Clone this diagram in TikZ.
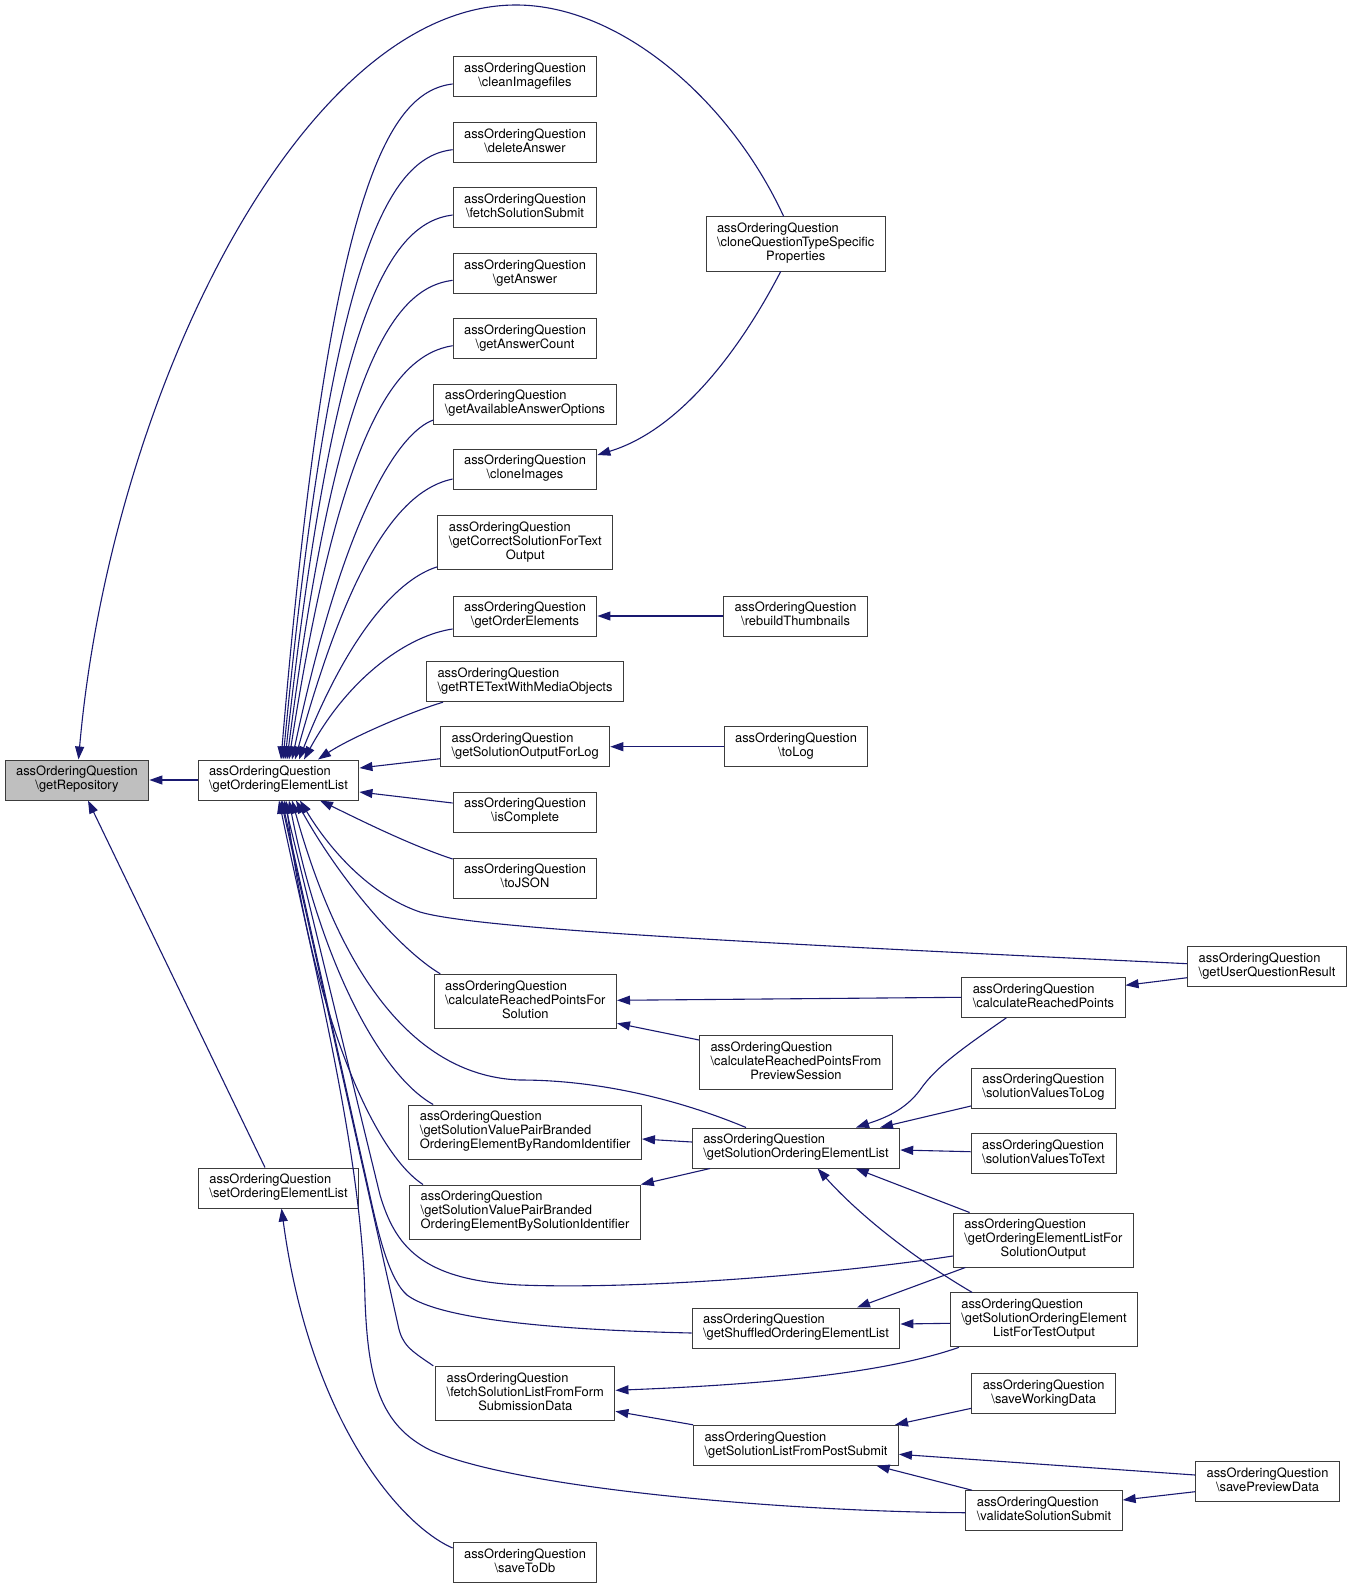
\documentclass[tikz,border=0pt]{standalone}
\usepackage{fontspec}
\setmainfont{TeX Gyre Heros}
\usetikzlibrary{arrows.meta}
\definecolor{edgeblue}{RGB}{25,25,112}
\definecolor{boxgray}{RGB}{191,191,191}
\definecolor{boxline}{RGB}{60,60,60}
% two line label: class, then method (last line centred)
\newcommand{\fnname}[1]{\begin{tabular}{@{}l@{}}assOrderingQuestion\\\hfill\textbackslash #1\hfill\null\end{tabular}}
% three line label
\newcommand{\fnnamesplit}[2]{\begin{tabular}{@{}l@{}}assOrderingQuestion\\\textbackslash #1\\\hfill #2\hfill\null\end{tabular}}
\tikzset{
  fnbox/.style={draw=boxline, line width=1pt, fill=white, inner xsep=11pt, inner ysep=6pt,
    font={\fontsize{12.9pt}{14pt}\selectfont}},
  curbox/.style={fnbox, fill=boxgray},
  calledge/.style={draw=edgeblue, line width=1.1pt, -{Triangle[length=13pt,width=9pt]}}
}
\begin{document}
\begin{tikzpicture}[x=1pt,y=-1pt]
\useasboundingbox (0,0) rectangle (1353,1589);

% Column 1
\node[curbox] (getRepository) at (77,780) {\fnname{getRepository}};%

% Column 2
\node[fnbox] (getOrderingElementList) at (278.5,780) {\fnname{getOrderingElementList}};%
\node[fnbox] (setOrderingElementList) at (278.5,1188) {\fnname{setOrderingElementList}};%

% Column 3
\node[fnbox] (cleanImagefiles) at (525,77) {\fnname{cleanImagefiles}};%
\node[fnbox] (deleteAnswer) at (525,142.7) {\fnname{deleteAnswer}};%
\node[fnbox] (fetchSolutionSubmit) at (525,208) {\fnname{fetchSolutionSubmit}};%
\node[fnbox] (getAnswer) at (525,273.3) {\fnname{getAnswer}};%
\node[fnbox] (getAnswerCount) at (525,338.7) {\fnname{getAnswerCount}};%
\node[fnbox] (getAvailableAnswerOptions) at (525,404) {\fnname{getAvailableAnswerOptions}};%
\node[fnbox] (cloneImages) at (525,469) {\fnname{cloneImages}};%
\node[fnbox] (getCorrectSolution) at (525.3,542.8) {\fnnamesplit{getCorrectSolutionForText}{Output}};%
\node[fnbox] (getOrderElements) at (525,616) {\fnname{getOrderElements}};%
\node[fnbox] (getRTEText) at (525,681.7) {\fnname{getRTETextWithMediaObjects}};%
\node[fnbox] (getSolutionOutputForLog) at (525.2,746.7) {\fnname{getSolutionOutputForLog}};%
\node[fnbox] (isComplete) at (525,812) {\fnname{isComplete}};%
\node[fnbox] (toJSON) at (525,878) {\fnname{toJSON}};%
\node[fnbox] (calcPointsForSolution) at (525.3,1001.3) {\fnnamesplit{calculateReachedPointsFor}{Solution}};%
\node[fnbox] (pairByRandom) at (525.2,1132) {\fnnamesplit{getSolutionValuePairBranded}{OrderingElementByRandomIdentifier}};%
\node[fnbox] (pairBySolution) at (525,1212) {\fnnamesplit{getSolutionValuePairBranded}{OrderingElementBySolutionIdentifier}};%
\node[fnbox] (fetchSolutionList) at (525.3,1393.3) {\fnnamesplit{fetchSolutionListFromForm}{SubmissionData}};%
\node[fnbox] (saveToDb) at (525,1562.7) {\fnname{saveToDb}};%

% Column 4
\node[fnbox] (cloneTypeSpecific) at (795.7,244) {\fnnamesplit{cloneQuestionTypeSpecific}{Properties}};%
\node[fnbox] (rebuildThumbnails) at (795.6,616) {\fnname{rebuildThumbnails}};%
\node[fnbox] (toLog) at (796,746.7) {\fnname{toLog}};%
\node[fnbox] (calcPointsFromPreview) at (796,1062.7) {\fnnamesplit{calculateReachedPointsFrom}{PreviewSession}};%
\node[fnbox] (getSolutionOrdering) at (796,1148) {\fnname{getSolutionOrderingElementList}};%
\node[fnbox] (getShuffled) at (796,1328) {\fnname{getShuffledOrderingElementList}};%
\node[fnbox] (getSolutionListFromPost) at (796,1445.3) {\fnname{getSolutionListFromPostSubmit}};%

% Column 5
\node[fnbox] (calcPoints) at (1043.4,997.3) {\fnname{calculateReachedPoints}};%
\node[fnbox] (valuesToLog) at (1043.5,1088) {\fnname{solutionValuesToLog}};%
\node[fnbox] (valuesToText) at (1043.6,1153.3) {\fnname{solutionValuesToText}};%
\node[fnbox] (listForSolutionOutput) at (1043.3,1240) {\fnnamesplit{getOrderingElementListFor}{SolutionOutput}};%
\node[fnbox] (listForTestOutput) at (1044,1319.8) {\fnnamesplit{getSolutionOrderingElement}{ListForTestOutput}};%
\node[fnbox] (saveWorkingData) at (1043.7,1393.3) {\fnname{saveWorkingData}};%
\node[fnbox] (validateSubmit) at (1044,1510.7) {\fnname{validateSolutionSubmit}};%

% Column 6
\node[fnbox] (getUserResult) at (1267,966.7) {\fnname{getUserQuestionResult}};%
\node[fnbox] (savePreviewData) at (1267.5,1481.7) {\fnname{savePreviewData}};%

% Edges into getRepository
\draw[calledge] (getOrderingElementList.west) -- (getRepository.east);%
\draw[calledge] ([xshift=-12pt]cloneTypeSpecific.north) .. controls (730,100) and (620,5) .. (516,5) .. controls (300,5) and (110,400) .. ([xshift=1.5pt]getRepository.north);%
\draw[calledge] ([xshift=-13.5pt]setOrderingElementList.north) -- ([xshift=11pt]getRepository.south);%
\draw[calledge] ([yshift=14.7pt]saveToDb.west) .. controls (400,1525) and (310,1420) .. ([xshift=3pt]setOrderingElementList.south);%

% Edges into getOrderingElementList, upper fan
\draw[calledge] ([yshift=-7pt]cleanImagefiles.west) .. controls (385,92) and (328,200) .. ([xshift=2.5pt]getOrderingElementList.north);%
\draw[calledge] ([yshift=-7pt]deleteAnswer.west) .. controls (388,157) and (331,255) .. ([xshift=4.5pt]getOrderingElementList.north);%
\draw[calledge] ([yshift=-7pt]fetchSolutionSubmit.west) .. controls (390,223) and (334,310) .. ([xshift=6.5pt]getOrderingElementList.north);%
\draw[calledge] ([yshift=-7pt]getAnswer.west) .. controls (392,288) and (337,370) .. ([xshift=8.5pt]getOrderingElementList.north);%
\draw[calledge] ([yshift=-7pt]getAnswerCount.west) .. controls (395,355) and (340,430) .. ([xshift=10.5pt]getOrderingElementList.north);%
\draw[calledge] ([yshift=-16pt]getAvailableAnswerOptions.west) .. controls (400,432) and (345,510) .. ([xshift=13.5pt]getOrderingElementList.north);%
\draw[calledge] ([yshift=-10pt]cloneImages.west) .. controls (400,490) and (350,560) .. ([xshift=16.5pt]getOrderingElementList.north);%
\draw[calledge] ([yshift=-24pt]getCorrectSolution.west) .. controls (400,578) and (350,630) .. ([xshift=20.5pt]getOrderingElementList.north);%
\draw[calledge] ([yshift=-13pt]getOrderElements.west) .. controls (410,635) and (350,675) .. ([xshift=25.5pt]getOrderingElementList.north);%
\draw[calledge] ([xshift=-82pt]getRTEText.south) .. controls (410,712) and (350,738) .. ([xshift=39.5pt]getOrderingElementList.north);%

% Edges into getOrderingElementList, right side and lower fan
\draw[calledge] ([yshift=-12pt]getSolutionOutputForLog.west) -- ([yshift=12pt]getOrderingElementList.east);%
\draw[calledge] ([yshift=9pt]isComplete.west) -- ([yshift=-12pt]getOrderingElementList.east);%
\draw[calledge] ([yshift=19pt]toJSON.west) .. controls (410,845) and (360,820) .. ([xshift=41.5pt]getOrderingElementList.south);%
\draw[calledge] ([yshift=3pt]getUserResult.west) .. controls (800,945) and (480,930) .. (420,912) .. controls (370,895) and (330,850) .. ([xshift=21.5pt]getOrderingElementList.south);%
\draw[calledge] ([xshift=-85pt]calcPointsForSolution.north) .. controls (400,950) and (340,880) .. ([xshift=17.5pt]getOrderingElementList.south);%
\draw[calledge] ([xshift=-50pt]getSolutionOrdering.north) .. controls (680,1100) and (600,1080) .. (520,1080) .. controls (380,1075) and (320,900) .. ([xshift=13.5pt]getOrderingElementList.south);%
\draw[calledge] ([xshift=-92pt]pairByRandom.north) .. controls (380,1075) and (320,960) .. ([xshift=10.5pt]getOrderingElementList.south);%
\draw[calledge] ([xshift=-102pt]pairBySolution.north) .. controls (370,1150) and (310,1000) .. ([xshift=7.5pt]getOrderingElementList.south);%
\draw[calledge] ([yshift=-16pt]listForSolutionOutput.west) .. controls (850,1272) and (650,1290) .. (520,1285) .. controls (420,1280) and (395,1245) .. (380,1195) -- ([xshift=5.5pt]getOrderingElementList.south);%
\draw[calledge] ([yshift=-5pt]getShuffled.west) .. controls (560,1330) and (440,1320) .. (407,1295) .. controls (390,1280) and (380,1240) .. (372,1205) -- ([xshift=3.5pt]getOrderingElementList.south);%
\draw[calledge] ([xshift=-92pt]fetchSolutionList.north) .. controls (410,1350) and (402,1345) .. (398,1325) -- ([xshift=2.5pt]getOrderingElementList.south);%
\draw[calledge] ([yshift=-2pt]validateSubmit.west) .. controls (800,1512) and (520,1490) .. (430,1450) .. controls (380,1425) and (368,1380) .. (365,1300) .. controls (362,1150) and (310,950) .. ([xshift=0.5pt]getOrderingElementList.south);%

% Edges between the other callers
\draw[calledge] ([xshift=-15pt]cloneTypeSpecific.south) .. controls (740,350) and (680,430) .. ([yshift=14pt]cloneImages.east);%
\draw[calledge] (rebuildThumbnails.west) -- (getOrderElements.east);%
\draw[calledge] (toLog.west) -- (getSolutionOutputForLog.east);%
\draw[calledge] ([yshift=-11pt]getUserResult.west) -- ([yshift=12pt]calcPoints.east);%
\draw[calledge] (calcPoints.west) -- ([yshift=1pt]calcPointsForSolution.east);%
\draw[calledge] ([yshift=22.7pt]calcPointsFromPreview.west) -- ([yshift=-22pt]calcPointsForSolution.east);%
\draw[calledge] ([xshift=-37pt]calcPoints.south) .. controls (960,1050) and (935,1068) .. (920,1090) .. controls (905,1110) and (885,1118) .. ([xshift=60pt]getSolutionOrdering.north);%
\draw[calledge] ([yshift=-18pt]valuesToLog.west) -- ([xshift=84pt]getSolutionOrdering.north);%
\draw[calledge] ([yshift=1.6pt]valuesToText.west) -- ([yshift=-2pt]getSolutionOrdering.east);%
\draw[calledge] ([xshift=-73.7pt]listForSolutionOutput.north) -- ([xshift=59.6pt]getSolutionOrdering.south);%
\draw[calledge] ([xshift=-72pt]listForTestOutput.north) .. controls (900,1250) and (850,1205) .. ([xshift=21.6pt]getSolutionOrdering.south);%
\draw[calledge] ([yshift=6pt]getSolutionOrdering.west) -- ([yshift=-7pt]pairByRandom.east);%
\draw[calledge] ([xshift=-86pt]getSolutionOrdering.south) -- (pairBySolution.north east);%
\draw[calledge] ([xshift=-78pt]listForSolutionOutput.south) -- ([xshift=61pt]getShuffled.north);%
\draw[calledge] ([yshift=-3.5pt]listForTestOutput.west) -- ([yshift=4pt]getShuffled.east);%
\draw[calledge] ([xshift=-85pt]listForTestOutput.south) .. controls (880,1375) and (750,1385) .. ([yshift=3pt]fetchSolutionList.east);%
\draw[calledge] (getSolutionListFromPost.north west) -- ([yshift=-18pt]fetchSolutionList.east);%
\draw[calledge] ([yshift=-15pt]saveWorkingData.west) -- ([xshift=99pt]getSolutionListFromPost.north);%
\draw[calledge] ([yshift=6.7pt]savePreviewData.west) -- ([yshift=-9pt]getSolutionListFromPost.east);%
\draw[calledge] ([xshift=-72pt]validateSubmit.north) -- ([xshift=80.6pt]getSolutionListFromPost.south);%
\draw[calledge] ([yshift=-10pt]savePreviewData.west) -- ([yshift=10.7pt]validateSubmit.east);%
\end{tikzpicture}
\end{document}
